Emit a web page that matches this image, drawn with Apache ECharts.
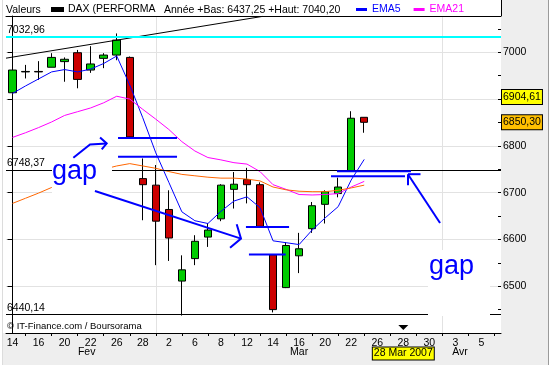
<!DOCTYPE html>
<html><head><meta charset="utf-8">
<script src="https://cdn.jsdelivr.net/npm/echarts/dist/echarts.min.js"></script>
<style>
html,body{margin:0;padding:0;background:#fff;}
#wrap{position:relative;width:552px;height:375px;overflow:hidden;background:#fff;}
.bg{position:absolute;background:#eeeeee;}
#chart{position:absolute;left:0;top:0;width:552px;height:375px;}
</style></head><body>
<div id="wrap">
<div class="bg" style="left:501px;top:0;width:47px;height:365px;border-right:1px solid #9a9a9a"></div>
<div class="bg" style="left:3px;top:333px;width:498px;height:32px;"></div>
<div style="position:absolute;left:2px;top:0;width:1px;height:365px;background:#dcdcdc"></div>
<div id="chart"></div>
</div>
<script>
// ---- data ----
const dates = ['2007-02-14','2007-02-15','2007-02-16','2007-02-19','2007-02-20','2007-02-21','2007-02-22','2007-02-23','2007-02-26','2007-02-27','2007-02-28',
 '2007-03-01','2007-03-02','2007-03-05','2007-03-06','2007-03-07','2007-03-08','2007-03-09','2007-03-12','2007-03-13','2007-03-14','2007-03-15','2007-03-16',
 '2007-03-19','2007-03-20','2007-03-21','2007-03-22','2007-03-23','2007-03-26','2007-03-27','2007-03-28','2007-03-29','2007-03-30',
 '2007-04-02','2007-04-03','2007-04-04','2007-04-05','2007-04-06'];
const opens  = [6913.5,6958,6959,6968,6980,6999,6962,6987,6994,6989,6730,6716,6664,6511,6559,6605,6644,6707,6728,6717,6567,6497,6565,6623,6675,6698,6746,6861];
const closes = [6962,6959,6958,6989,6985,6942,6975,6994,7026,6819,6717,6639,6603,6535,6596,6620,6716,6718,6717,6628,6450,6587,6580,6672,6702,6712,6859,6850.3];
const lows   = [6910.7,6944,6941,6968,6937,6923,6956,6966,6983,6817,6641,6545,6554,6437.25,6545,6584,6639,6666,6677,6627,6444,6496,6528,6614,6634,6690,6746,6828];
const highs  = [6966,6973,6981,6998,6989,7005,7013,6998,7040.2,6991,6773,6759,6705,6566,6609,6635,6718,6744,6753,6722,6568,6594,6614,6680,6705,6732,6874,6861];
const ema5   = [6912,6928,6943,6958,6963,6958,6964,6976,6992,6930,6860,6785,6722,6659,6640,6634,6660,6682,6691,6668,6597,6593,6589,6620,6646,6670,6727,6771];
const ema21  = [6818,6828,6839,6851,6865,6873,6881,6892,6906,6900,6878,6857,6835,6809,6789,6775,6770,6764,6761,6745,6717,6707,6696,6695,6696,6698,6712,6724];
const emaLong= [6677,6688,6699,6711,6722,6733,6742,6750,6757,6762,6757,6752,6745,6739,6736,6733,6731,6731,6729,6725,6712,6706,6703,6702,6702,6705,6710,6716];
const monthStartIdx = [11, 33];
const monthLabelIdx = {6:'Fev', 22:'Mar', 34:'Avr'};
const refLines = [
  {value:7032.96, label:'7032,96', color:'#00ffff', width:2},
  {value:6748.37, label:'6748,37', color:'#000000', width:1},
  {value:6440.14, label:'6440,14', color:'#000000', width:1}
];
const priceTags = [{value:6904.61, text:'6904,61', bg:'#ffff00'},{value:6850.30, text:'6850,30', bg:'#ffc000'}];
const markerDate = '2007-03-28';
const markerText = '28 Mar 2007';
// hand-drawn annotations in data space: [category position, price]
const gapLevels = [
  [[8.10,6817],[12.63,6817]],
  [[8.10,6776.5],[12.63,6776.5]],
  [[17.92,6626.6],[21.23,6626.6]],
  [[18.15,6568],[20.97,6568]],
  [[24.91,6745.8],[30.59,6745.8]],
  [[24.45,6735],[30.13,6735]]
];
const arrows = [
  [[32.82,6635.1],[30.38,6738.3]],
  [[30.36,6739.4],[31.32,6739.4]],
  [[30.36,6739.4],[30.36,6715.8]],
  [[6.33,6703.6],[17.54,6601.7]],
  [[17.21,6632.3],[17.54,6601.7],[16.70,6582.4]],
  [[4.67,6774.5],[5.95,6803],[7.23,6805.2]],
  [[6.72,6818],[7.23,6805.2],[6.85,6792.3]]
];
const trendLine = [[-0.5,6987.4],[19.23,7076.8]];

// ---- chart ----
const FONT = '"Liberation Sans", Arial, sans-serif';
const FS = 10.5;
const chart = echarts.init(document.getElementById('chart'));
const candleData = opens.map((o,i)=>[o, closes[i], lows[i], highs[i]]);

const option = {
  animation: false,
  textStyle: {fontFamily: FONT, fontSize: FS, color: '#000'},
  grid: {left: 6, right: 51, top: 16, bottom: 42},
  legend: [
    {left: 51, top: 4, padding: 0, icon: 'rect', itemWidth: 11, itemHeight: 3, itemGap: 12, selectedMode: false,
     textStyle: {fontFamily: FONT, fontSize: FS, color: '#000'},
     data: [{name: 'DAX (PERFORMA', itemStyle: {color: '#000'}}]},
    {left: 356, top: 4, padding: 0, icon: 'rect', itemWidth: 11, itemHeight: 3, itemGap: 13, selectedMode: false,
     textStyle: {fontFamily: FONT, fontSize: FS},
     data: [{name: 'EMA5', itemStyle: {color: '#0000ff'}, textStyle: {color: '#0000ff'}},
            {name: 'EMA21', itemStyle: {color: '#ff00ff'}, textStyle: {color: '#ff00ff'}}]}
  ],
  xAxis: [
    {type: 'category', data: dates, boundaryGap: true, position: 'bottom',
     axisLine: {lineStyle: {color: '#000', width: 1}},
     axisTick: {show: true, alignWithLabel: true, length: 3, interval: (i) => i % 2 === 1, lineStyle: {color: '#000'}},
     axisLabel: {interval: 1, margin: 5, fontFamily: FONT, fontSize: FS, color: '#000',
                 formatter: (v) => String(parseInt(v.slice(8), 10))},
     splitLine: {show: true, alignWithLabel: true, interval: (i) => monthStartIdx.includes(i), lineStyle: {color: '#e2e2e2', width: 1}}},
    {type: 'category', position: 'bottom', offset: 9, boundaryGap: true,
     data: dates.map((d, i) => i === 6 ? {value: d, textStyle: {padding: [0, 8, 0, 0]}} : (i === 34 ? {value: d, textStyle: {padding: [0, 0, 0, 9]}} : d)),
     axisLine: {show: false}, axisTick: {show: false}, splitLine: {show: false},
     axisLabel: {interval: (i) => monthLabelIdx[i] !== undefined, margin: 5, fontFamily: FONT, fontSize: FS, color: '#000',
                 formatter: (v, i) => monthLabelIdx[i] || ''}},
    {type: 'value', position: 'top', min: -0.5, max: 37.5,
     axisLine: {show: true, lineStyle: {color: '#000'}}, axisTick: {show: false}, axisLabel: {show: false}, splitLine: {show: false}}
  ],
  yAxis: [
    {type: 'value', position: 'right', min: 6400, max: 7077.5, interval: 100,
     axisLine: {show: true, lineStyle: {color: '#000'}},
     axisTick: {show: true, inside: true, length: 5, lineStyle: {color: '#000'}},
     axisLabel: {margin: 2, fontFamily: FONT, fontSize: FS, color: '#000',
                 formatter: (v) => (v % 100 === 0 && v > 6400) ? String(v) : ''},
     splitLine: {show: true, lineStyle: {color: '#e2e2e2', width: 1}}},
    {type: 'value', position: 'right', min: 6400, max: 7077.5, interval: 50,
     axisLine: {show: false}, axisLabel: {show: false}, splitLine: {show: false},
     axisTick: {show: true, inside: true, length: 3, lineStyle: {color: '#000'}}}
  ],
  series: [
    {name: 'DAX (PERFORMA', type: 'candlestick', xAxisIndex: 0, yAxisIndex: 0, data: candleData, barWidth: 8,
     itemStyle: {color: '#00cc00', color0: '#cc0000', borderColor: '#000', borderColor0: '#000', borderWidth: 1},
     markLine: {symbol: ['none', 'none'], silent: true, animation: false,
       data: refLines.map(r => ({yAxis: r.value,
         lineStyle: {color: r.color, width: r.width, type: 'solid'},
         label: {show: true, position: 'insideStartTop', formatter: r.label, color: '#000', fontFamily: FONT, fontSize: FS, distance: [1, 1]}}))}},
    {name: 'EMA5', type: 'line', data: ema5, symbol: 'none', lineStyle: {color: '#0000ff', width: 1}, itemStyle: {color: '#0000ff'}, z: 3},
    {name: 'EMA21', type: 'line', data: ema21, symbol: 'none', lineStyle: {color: '#ff00ff', width: 1}, itemStyle: {color: '#ff00ff'}, z: 3},
    {name: 'EMA50', type: 'line', data: emaLong, symbol: 'none', lineStyle: {color: '#ff6600', width: 1}, itemStyle: {color: '#ff6600'}, z: 3},
    {name: 'trend', type: 'lines', coordinateSystem: 'cartesian2d', xAxisIndex: 2, yAxisIndex: 0, polyline: true, silent: true, z: 4,
     lineStyle: {color: '#000', width: 1, opacity: 1, curveness: 0},
     data: [{coords: trendLine}]},
    {name: 'gaps', type: 'lines', coordinateSystem: 'cartesian2d', xAxisIndex: 2, yAxisIndex: 0, polyline: true, silent: true, z: 60,
     lineStyle: {color: '#0000ff', width: 2, opacity: 1, curveness: 0},
     data: gapLevels.concat(arrows).map(c => ({coords: c}))}
  ]
};
chart.setOption(option);

const gx = chart.convertToPixel({xAxisIndex: 0}, markerDate);
const graphics = [
  {type: 'line', shape: {x1: 501.5, y1: 0, x2: 501.5, y2: 16}, style: {stroke: '#000', lineWidth: 1}},
  {type: 'text', x: 6, y: 10, style: {text: 'Valeurs', font: FS + 'px ' + FONT, fill: '#000', verticalAlign: 'middle'}},
  {type: 'text', x: 164, y: 10, style: {text: 'Année +Bas: 6437,25 +Haut: 7040,20', font: FS + 'px ' + FONT, fill: '#000', verticalAlign: 'middle'}},
  {type: 'text', x: 7, y: 326, style: {text: '© IT-Finance.com / Boursorama', font: '9.5px ' + FONT, fill: '#000', verticalAlign: 'middle'}},
  {type: 'rect', z: 50, shape: {x: 52, y: 156, width: 60, height: 62}, style: {fill: '#fff'}},
  {type: 'text', z: 51, x: 52, y: 172, style: {text: 'gap', font: '27px ' + FONT, fill: '#0000ff', verticalAlign: 'middle'}},
  {type: 'rect', z: 50, shape: {x: 428, y: 250, width: 62, height: 66}, style: {fill: '#fff'}},
  {type: 'text', z: 51, x: 429, y: 267, style: {text: 'gap', font: '27px ' + FONT, fill: '#0000ff', verticalAlign: 'middle'}},
  {type: 'polygon', z: 55, shape: {points: [[gx - 5, 325], [gx + 5, 325], [gx, 330]]}, style: {fill: '#000'}},
  {type: 'text', z: 55, x: gx, y: 353.5, style: {text: markerText, font: FS + 'px ' + FONT, fill: '#000', align: 'center', verticalAlign: 'middle',
    backgroundColor: '#ffff00', borderColor: '#000', borderWidth: 1, padding: [1, 1, 0, 1]}}
].concat(priceTags.map(t => ({type: 'text', z: 55, x: 502, y: chart.convertToPixel({yAxisIndex: 0}, t.value),
   style: {text: t.text, font: FS + 'px ' + FONT, fill: '#000', align: 'left', verticalAlign: 'middle',
           backgroundColor: t.bg, borderColor: '#000', borderWidth: 1, padding: [2, 1, 1, 1]}})));
chart.setOption({graphic: graphics});
</script>
</body></html>
